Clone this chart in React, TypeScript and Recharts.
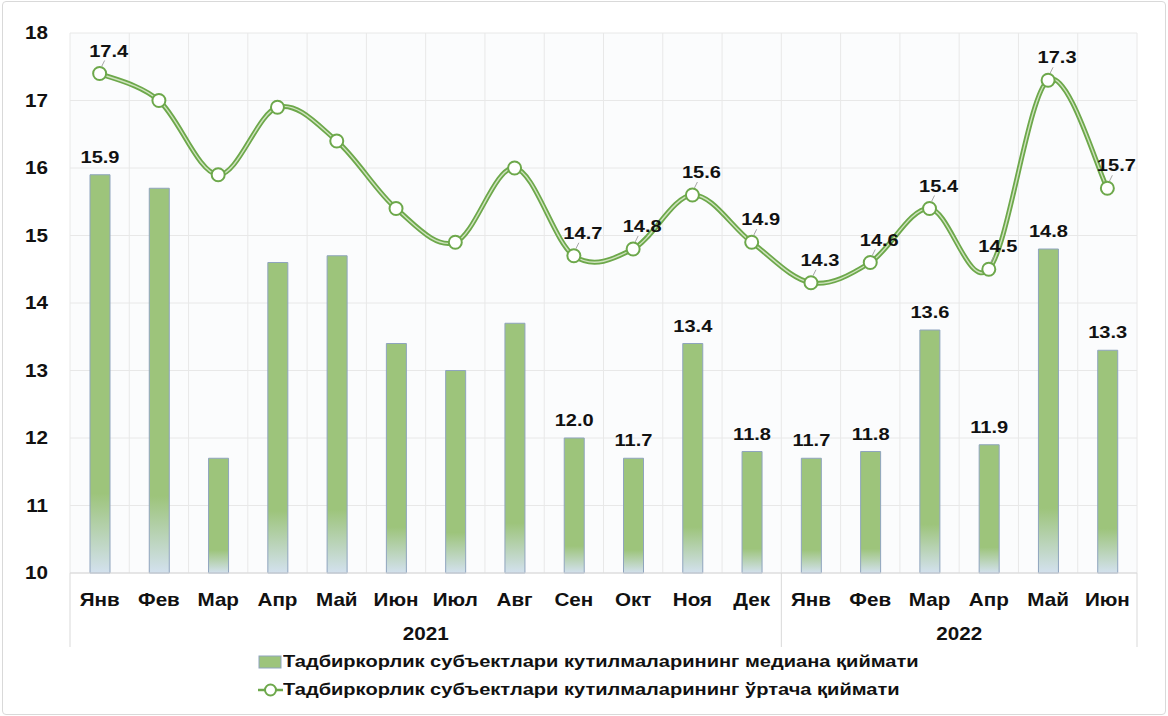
import { ComposedChart, Bar, Line, XAxis, YAxis, CartesianGrid } from "recharts";

const months = ["Янв", "Фев", "Мар", "Апр", "Май", "Июн", "Июл", "Авг", "Сен", "Окт", "Ноя", "Дек", "Янв", "Фев", "Мар", "Апр", "Май", "Июн"];
const years = [
  { label: "2021", count: 12 },
  { label: "2022", count: 6 },
];
const medianValues = [15.9, 15.7, 11.7, 14.6, 14.7, 13.4, 13.0, 13.7, 12.0, 11.7, 13.4, 11.8, 11.7, 11.8, 13.6, 11.9, 14.8, 13.3];
const averageValues = [17.4, 17.0, 15.9, 16.9, 16.4, 15.4, 14.9, 16.0, 14.7, 14.8, 15.6, 14.9, 14.3, 14.6, 15.4, 14.5, 17.3, 15.7];
// which points carry a value label in the original
const medianLabelIdx = [0, 8, 9, 10, 11, 12, 13, 14, 15, 16, 17];
const averageLabelIdx = [0, 8, 9, 10, 11, 12, 13, 14, 15, 16, 17];
const yTicks = [10, 11, 12, 13, 14, 15, 16, 17, 18];

const medianName = "Тадбиркорлик субъектлари кутилмаларининг медиана қиймати";
const averageName = "Тадбиркорлик субъектлари кутилмаларининг ўртача қиймати";

const data = months.map((m, i) => ({
  month: m,
  median: medianValues[i],
  average: averageValues[i],
}));

const FONT = "'Liberation Sans', Arial, sans-serif";
const GREEN = "#6DA84B";
const STRETCH = 1.18; // the original text is drawn a little wide

// Excel-like smoothed line (catmull-rom through the points)
const excelCurve = (context: any) => {
  let pts: number[][] = [];
  return {
    areaStart() {},
    areaEnd() {},
    lineStart() {
      pts = [];
    },
    point(x: number, y: number) {
      pts.push([+x, +y]);
    },
    lineEnd() {
      if (!pts.length) return;
      context.moveTo(pts[0][0], pts[0][1]);
      for (let i = 0; i < pts.length - 1; i++) {
        const p0 = pts[i - 1] || pts[i];
        const p1 = pts[i];
        const p2 = pts[i + 1];
        const p3 = pts[i + 2] || p2;
        context.bezierCurveTo(
          p1[0] + (p2[0] - p0[0]) / 6,
          p1[1] + (p2[1] - p0[1]) / 6,
          p2[0] - (p3[0] - p1[0]) / 6,
          p2[1] - (p3[1] - p1[1]) / 6,
          p2[0],
          p2[1]
        );
      }
    },
  };
};

const WideText = ({ x, y, anchor = "middle", size = 17, children }: any) => (
  <text
    transform={`translate(${x},${y}) scale(${STRETCH},1)`}
    textAnchor={anchor}
    fontFamily={FONT}
    fontWeight="bold"
    fontSize={size}
    fill="#111"
  >
    {children}
  </text>
);

const groupStarts: number[] = [];
const groupMids: { idx: number; label: string }[] = [];
let acc = 0;
years.forEach((y) => {
  groupStarts.push(acc);
  groupMids.push({ idx: acc + y.count / 2 - 1, label: y.label });
  acc += y.count;
});

const MonthTick = (props: any) => {
  const { x, y, payload, index } = props;
  const half = payload.offset || 0;
  const mid = groupMids.find((g) => Math.floor(g.idx) === index);
  return (
    <g>
      <WideText x={x} y={y + 33} size={17.5}>
        {payload.value}
      </WideText>
      {groupStarts.includes(index) && (
        <line x1={x - half} x2={x - half} y1={y} y2={y + 74} stroke="#D9D9D9" />
      )}
      {index === months.length - 1 && (
        <line x1={x + half} x2={x + half} y1={y} y2={y + 74} stroke="#D9D9D9" />
      )}
      {mid && (
        <WideText x={x + (mid.idx % 1 === 0 ? half : 0)} y={y + 67} size={17.5}>
          {mid.label}
        </WideText>
      )}
    </g>
  );
};

const ValueTick = (props: any) => {
  const { x, y, payload } = props;
  return (
    <WideText x={x} y={y + 6} anchor="end" size={17.5}>
      {payload.value}
    </WideText>
  );
};

const BarLabel = (props: any) => {
  const { x, y, width, value, index } = props;
  if (!medianLabelIdx.includes(index)) return null;
  return (
    <WideText x={x + width / 2} y={y - 12} size={17}>
      {Number(value).toFixed(1)}
    </WideText>
  );
};

const LineLabel = (props: any) => {
  const { x, y, value, index } = props;
  if (!averageLabelIdx.includes(index)) return null;
  return (
    <g>
      <line x1={x + 2} y1={y - 7} x2={x + 5} y2={y - 13} stroke="#A6A6A6" />
      <WideText x={x + 9} y={y - 17} size={17}>
        {Number(value).toFixed(1)}
      </WideText>
    </g>
  );
};

export default function App() {
  return (
    <div style={{ position: "absolute", left: 0, top: 0, width: 1168, height: 716, background: "#fff" }}>
      <ComposedChart width={1168} height={716} data={data} margin={{ top: 33, right: 31, left: 0, bottom: 0 }}>
        <defs>
          <linearGradient id="barGrad" x1="0" y1="0" x2="0" y2="1">
            <stop offset="0" stopColor="#9DC47B" />
            <stop offset="0.8" stopColor="#9DC47B" />
            <stop offset="1" stopColor="#D3E1EE" />
          </linearGradient>
        </defs>
        <CartesianGrid
          stroke="#E8E8E8"
          fill="#FBFCFD"
          verticalCoordinatesGenerator={({ offset }: any) =>
            [...months, ""].map((_, i) => offset.left + (i * offset.width) / months.length)
          }
        />
        <XAxis
          dataKey="month"
          interval={0}
          height={143}
          axisLine={{ stroke: "#D9D9D9" }}
          tickLine={false}
          tickSize={0}
          tickMargin={0}
          tick={<MonthTick />}
        />
        <YAxis
          domain={[10, 18]}
          ticks={yTicks}
          width={70}
          axisLine={false}
          tickLine={false}
          tickSize={0}
          tickMargin={22}
          tick={<ValueTick />}
        />
        <Bar
          dataKey="median"
          name={medianName}
          barSize={20}
          fill="url(#barGrad)"
          stroke="#8FA4BE"
          strokeWidth={1}
          isAnimationActive={false}
          label={<BarLabel />}
        />
        <Line
          dataKey="average"
          type={excelCurve as any}
          stroke={GREEN}
          strokeWidth={5}
          dot={false}
          activeDot={false}
          isAnimationActive={false}
        />
        <Line
          dataKey="average"
          type={excelCurve as any}
          stroke="#CFE3BE"
          strokeWidth={1.4}
          dot={false}
          activeDot={false}
          isAnimationActive={false}
        />
        <Line
          dataKey="average"
          name={averageName}
          type={excelCurve as any}
          stroke="none"
          strokeWidth={0}
          dot={{ r: 6.5, fill: "#fff", stroke: GREEN, strokeWidth: 2 }}
          activeDot={false}
          isAnimationActive={false}
          label={<LineLabel />}
        />
      </ComposedChart>

      <div
        style={{
          position: "absolute",
          left: 258,
          top: 648,
          fontFamily: FONT,
          fontWeight: "bold",
          fontSize: 17,
          color: "#111",
          lineHeight: "28px",
        }}
      >
        <div style={{ display: "flex", alignItems: "center" }}>
          <svg width={25} height={14}>
            <rect x={1} y={1} width={22} height={12} fill="#9DC47B" stroke="#8FA4BE" />
          </svg>
          <span style={{ display: "inline-block", transform: `scaleX(${STRETCH})`, transformOrigin: "left center" }}>
            {medianName}
          </span>
        </div>
        <div style={{ display: "flex", alignItems: "center" }}>
          <svg width={25} height={16}>
            <line x1={0} x2={25} y1={8} y2={8} stroke={GREEN} strokeWidth={2.5} />
            <circle cx={12.5} cy={8} r={5.5} fill="#fff" stroke={GREEN} strokeWidth={2} />
          </svg>
          <span style={{ display: "inline-block", transform: `scaleX(${STRETCH})`, transformOrigin: "left center" }}>
            {averageName}
          </span>
        </div>
      </div>

      <div
        style={{
          position: "absolute",
          left: 2,
          top: 1,
          width: 1162,
          height: 712,
          border: "1px solid #D9D9D9",
          borderRadius: 4,
          pointerEvents: "none",
        }}
      />
    </div>
  );
}
